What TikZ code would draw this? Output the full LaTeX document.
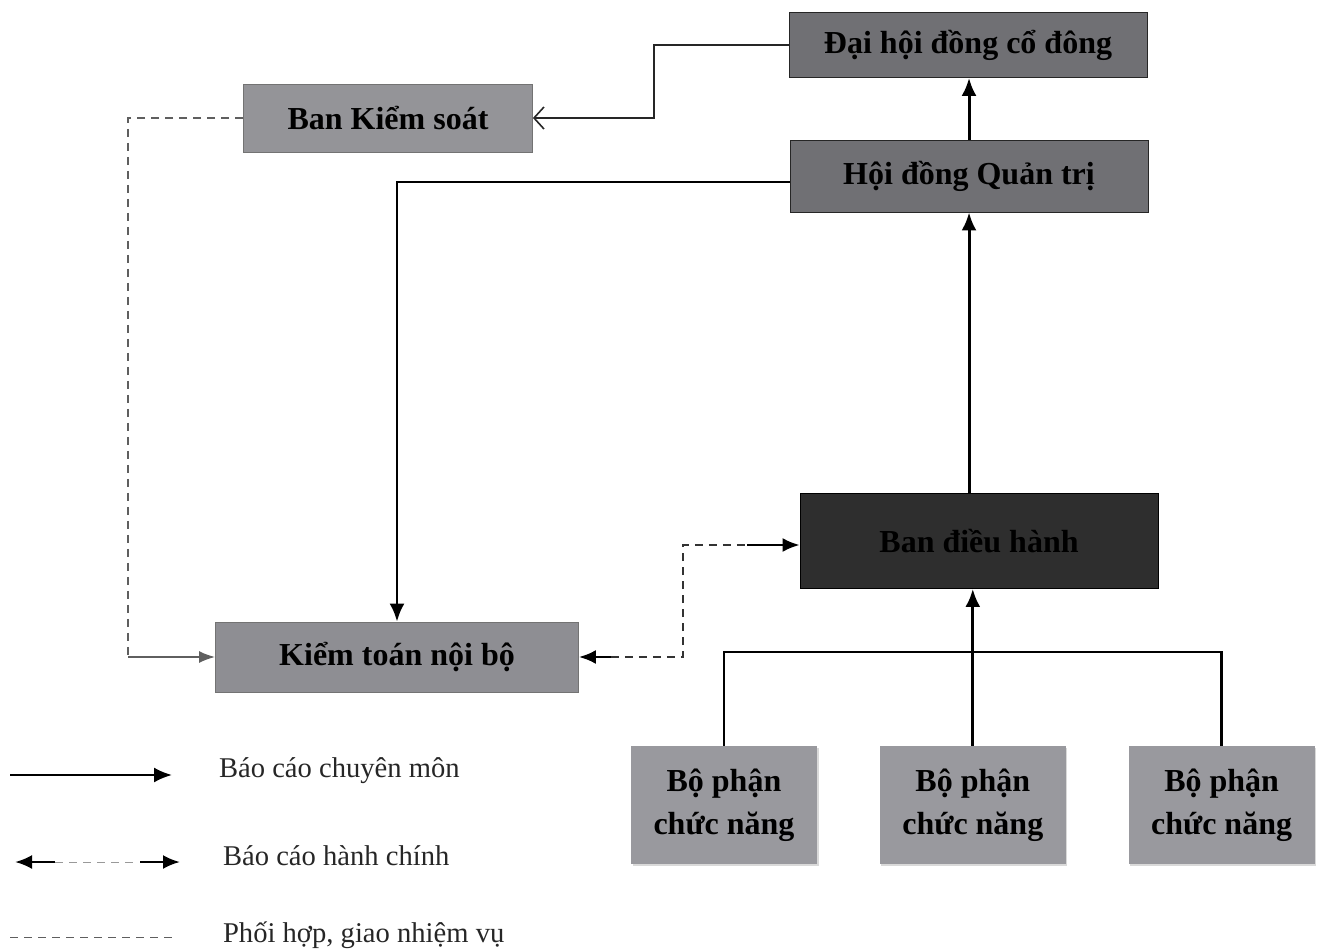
\documentclass[tikz,border=0pt]{standalone}
\usepackage{fontspec}
\setmainfont{Liberation Serif}
\usetikzlibrary{arrows.meta,positioning,shadows}
\definecolor{BoxGray}{RGB}{142,142,147}
\definecolor{BoardGray}{RGB}{112,112,116}
\definecolor{ExecDark}{RGB}{46,46,46}
\definecolor{LineGray}{RGB}{95,95,95}
\tikzset{
  unit/.style={draw=black!55,fill=BoxGray,align=center,inner sep=2pt,
    font=\bfseries\fontsize{16}{21.5}\selectfont},
  board/.style={unit,draw=black!85,fill=BoardGray,minimum width=179pt},
  exec/.style={unit,draw=black,fill=ExecDark,text=black,
    minimum width=179pt,minimum height=47.5pt},
  dept/.style={unit,draw=none,fill=BoxGray!90!white,minimum width=93pt,
    minimum height=59pt,drop shadow={shadow xshift=0.8pt,shadow yshift=-1.2pt,opacity=0.3}},
  legend/.style={anchor=west,font=\fontsize{14.3}{17}\selectfont,text=black!85},
  arrow/.style={-{Latex[length=9pt,width=7.5pt]},line width=1.5pt},
  report/.style={line width=1.4pt},
  thinarrow/.style={-{Straight Barb[length=5pt,width=11pt]},line width=0.8pt,black!85},
  coord/.style={dash pattern=on 4pt off 3pt,line width=0.7pt,LineGray},
  coordarrow/.style={-{Latex[length=8pt,width=6pt]},line width=0.9pt,LineGray},
  admin/.style={dash pattern=on 4pt off 3pt,line width=0.9pt,black!80},
  adminarrow/.style={-{Latex[length=8.5pt,width=7pt]},line width=1.3pt}
}

\begin{document}
\begin{tikzpicture}[x=0.5pt,y=-0.5pt]
\useasboundingbox (0,0) rectangle (1320,951);

% boxes
\node[board,minimum height=32.5pt] (dhd) at (968,45) {Đại hội đồng cổ đông};
\node[board,minimum height=36pt] (hdqt) at (969,176) {Hội đồng Quản trị};
\node[unit,fill=BoxGray!95!white,minimum width=144.5pt,minimum height=34pt] (bks) at (388,118) {Ban Kiểm soát};
\node[exec] (bdh) at (979,541) {Ban điều hành};
\node[unit,minimum width=181.5pt,minimum height=35pt] (ktnb) at (397,657) {Kiểm toán nội bộ};

\begin{scope}[node distance=31pt]
\node[dept] (bp1) at (724,805) {Bộ phận\\chức năng};
\node[dept,right=of bp1] (bp2) {Bộ phận\\chức năng};
\node[dept,right=of bp2] (bp3) {Bộ phận\\chức năng};
\end{scope}

% reporting lines
\draw[arrow] (hdqt.north) -- (hdqt.north |- dhd.south);
\draw[arrow] (hdqt.south |- bdh.north) -- (hdqt.south);
\draw[report,-{Latex[length=9pt,width=7.5pt]}] ([yshift=-3pt]hdqt.west) -| (ktnb.north);

\coordinate (k1) at (654,118);
\draw[thinarrow] (dhd.west) -| (k1) -- (bks.east);

% coordination
\coordinate (c1) at (128,657);
\draw[coord] (bks.west) -| (c1);
\draw[coordarrow] (c1) -- (ktnb.west);

% administrative
\coordinate (h1) at (683,657);
\coordinate (h2) at (683,545);
\draw[admin] (ktnb.east) ++(32,0) coordinate (h0) -- (h1) -- (h2) -- ++(64,0) coordinate (h3);
\draw[adminarrow] (h0) -- (ktnb.east);
\draw[adminarrow] (h3) -- (bdh.west |- h3);

% departments
\coordinate (t) at (0,652);
\draw[report] (bp1.north) -- (bp1.north |- t) -- (bp3.north |- t) -- (bp3.north);
\draw[arrow] (bp2.north) -- (bp2.north |- bdh.south);

% legend
\node[legend] (lg1) at (212,771) {Báo cáo chuyên môn};
\node[legend] (lg2) at (216,856) {Báo cáo hành chính};
\node[legend] (lg3) at (216,935) {Phối hợp, giao nhiệm vụ};

\coordinate (s1) at (10,775);
\draw[arrow,line width=1.1pt] (s1) -- ++(162,0);
\coordinate (s2) at (55,862);
\draw[adminarrow] (s2) -- ++(-40,0);
\draw[coord,line width=0.5pt,black!40] (s2) -- ++(80,0) coordinate (s3);
\draw[adminarrow] (s3) ++(5,0) -- ++(40,0);
\coordinate (s4) at (10,937);
\draw[coord,line width=0.5pt] (s4) -- ++(165,0);

\end{tikzpicture}
\end{document}
